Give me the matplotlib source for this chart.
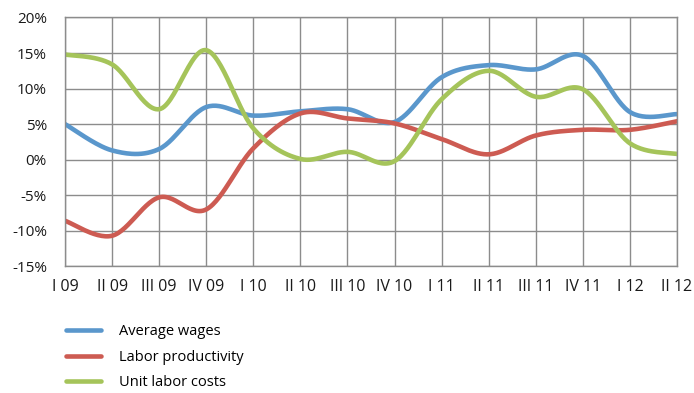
import numpy as np
import matplotlib
matplotlib.use("Agg")
import matplotlib.pyplot as plt

# Quarterly growth rates, %
quarters = ["I 09", "II 09", "III 09", "IV 09", "I 10", "II 10", "III 10",
            "IV 10", "I 11", "II 11", "III 11", "IV 11", "I 12", "II 12"]
avg_wages = [5.0, 1.3, 1.5, 7.4, 6.2, 6.8, 7.1, 5.3, 11.6, 13.3, 12.7, 14.6, 6.7, 6.4]
labor_productivity = [-8.6, -10.7, -5.3, -7.0, 1.6, 6.5, 5.8, 5.1, 2.9, 0.75, 3.4, 4.2, 4.2, 5.4]
unit_labor_costs = [14.8, 13.4, 7.1, 15.4, 4.4, 0.1, 1.1, -0.2, 8.5, 12.5, 8.85, 9.9, 2.3, 0.8]

series = [
    ("Average wages", avg_wages, "#5a97cc"),
    ("Labor productivity", labor_productivity, "#cd5b52"),
    ("Unit labor costs", unit_labor_costs, "#a5c45a"),
]

plt.rcParams['font.family'] = ['Open Sans', 'DejaVu Sans']


def smooth(y, n=30):
    # bezier smoothing between points, control points from neighbours
    y = np.asarray(y, dtype=float)
    x = np.arange(len(y), dtype=float)
    px = np.concatenate([[x[0]], x, [x[-1]]])
    py = np.concatenate([[y[0]], y, [y[-1]]])
    xs, ys = [], []
    t = np.linspace(0, 1, n)
    for i in range(len(y) - 1):
        p0 = np.array([px[i], py[i]])
        p1 = np.array([px[i + 1], py[i + 1]])
        p2 = np.array([px[i + 2], py[i + 2]])
        p3 = np.array([px[i + 3], py[i + 3]])
        c1 = p1 + (p2 - p0) / 6
        c2 = p2 - (p3 - p1) / 6
        b = ((1 - t) ** 3)[:, None] * p1 + (3 * (1 - t) ** 2 * t)[:, None] * c1 \
            + (3 * (1 - t) * t ** 2)[:, None] * c2 + (t ** 3)[:, None] * p2
        xs.append(b[:, 0])
        ys.append(b[:, 1])
    return np.concatenate(xs), np.concatenate(ys)


fig = plt.figure(figsize=(6.94, 3.93), dpi=100)
ax = fig.add_axes([0.0937, 0.3224, 0.8818, 0.6331])

for label, vals, color in series:
    sx, sy = smooth(vals)
    ax.plot(sx, sy, color=color, lw=3.3, label=label, solid_capstyle="round")

ax.set_xlim(0, len(quarters) - 1)
ax.set_ylim(-15, 20)
ax.set_xticks(range(len(quarters)))
ax.set_xticklabels(quarters)
ax.set_yticks(range(-15, 21, 5))
ax.set_yticklabels([f"{v}%" for v in range(-15, 21, 5)])
ax.tick_params(axis="both", length=0, labelsize=11, colors="#1a1a1a")
ax.tick_params(axis="x", labelsize=11.5)
ax.tick_params(axis="y", pad=13)
ax.tick_params(axis="x", pad=9)

ax.grid(True, color="#8c8c8c", lw=1.0)
ax.set_axisbelow(True)
for s in ax.spines.values():
    s.set_color("#8c8c8c")
    s.set_linewidth(1.0)

fig.legend(loc="upper left", bbox_to_anchor=(0.087, 0.19), frameon=False,
           fontsize=10.5, handlelength=2.4, handletextpad=1.2, labelspacing=0.72,
           borderaxespad=0)

fig.savefig("out.png", dpi=100)
